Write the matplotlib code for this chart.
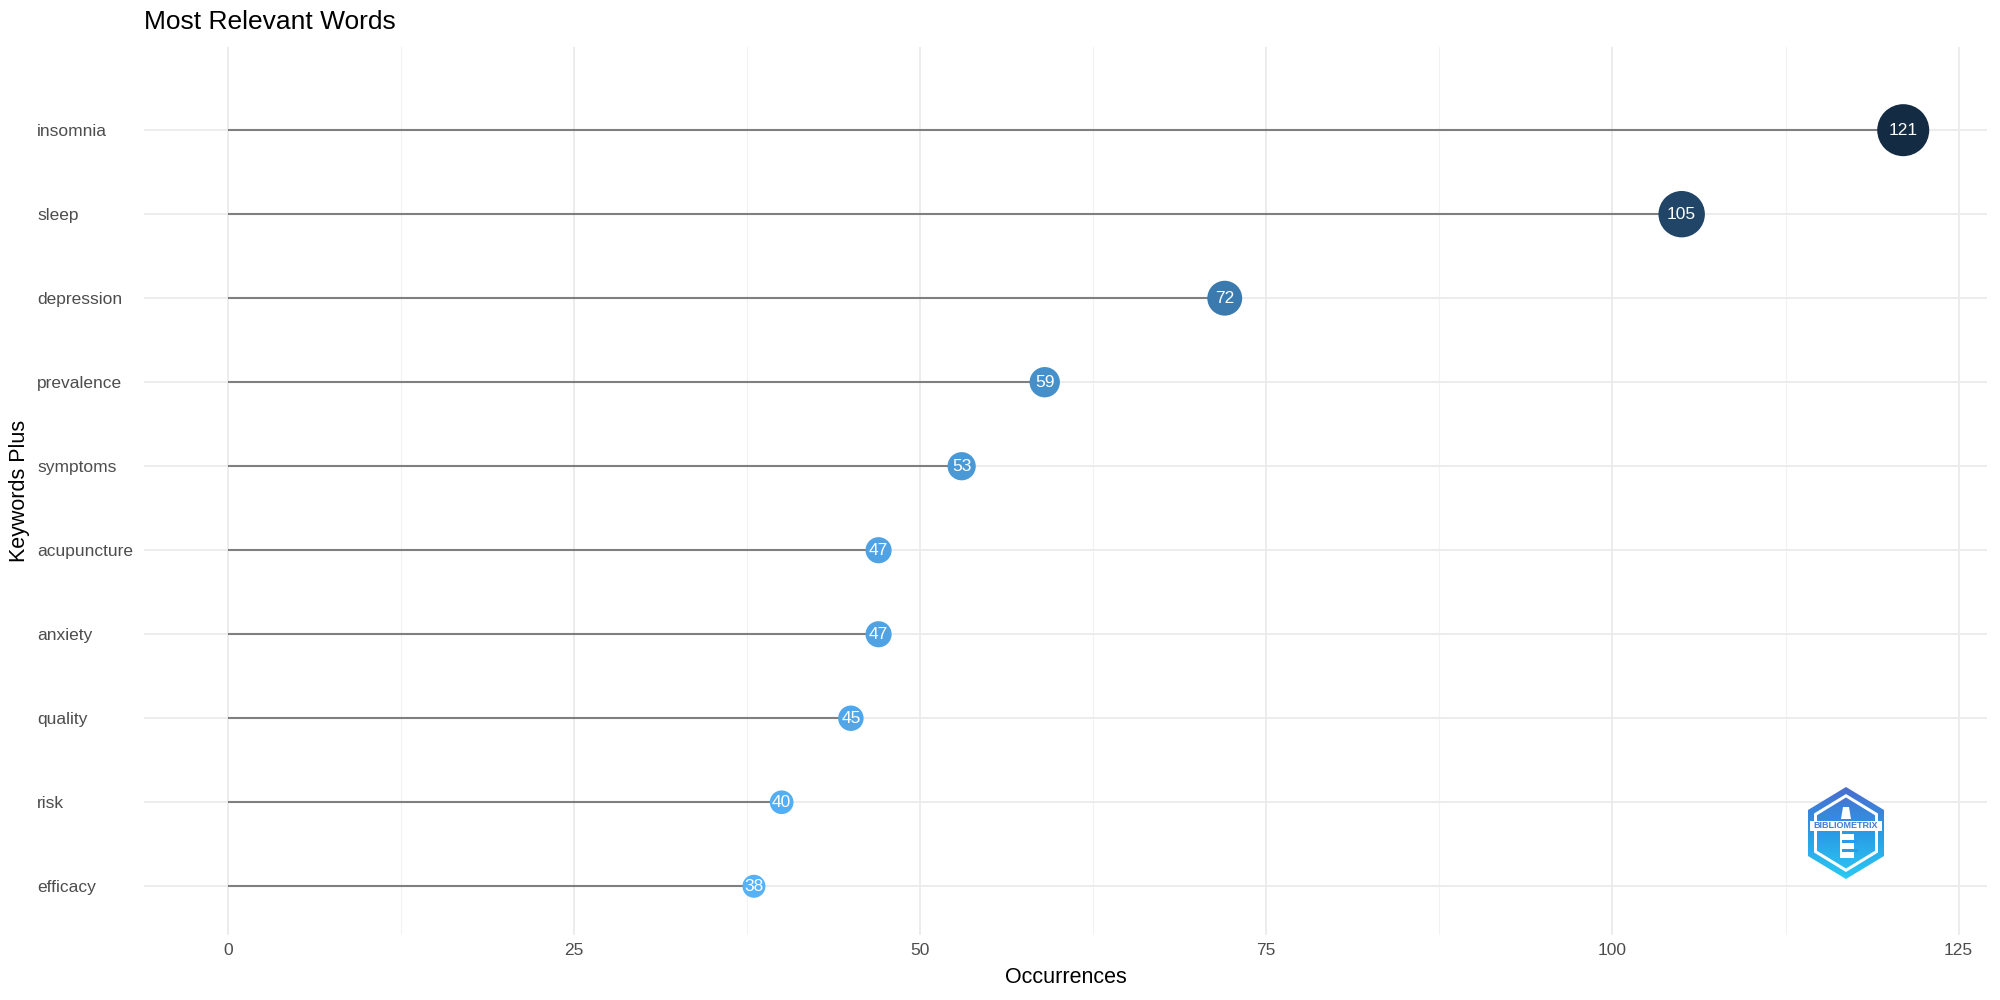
import numpy as np
import matplotlib.pyplot as plt
from matplotlib.colors import LinearSegmentedColormap
from matplotlib.patches import Polygon, Rectangle

plt.rcParams['font.family'] = ['Liberation Sans', 'DejaVu Sans']

words = ['efficacy', 'risk', 'quality', 'anxiety', 'acupuncture',
         'symptoms', 'prevalence', 'depression', 'sleep', 'insomnia']
occurrences = [38, 40, 45, 47, 47, 53, 59, 72, 105, 121]
x_ticks = [0, 25, 50, 75, 100, 125]
x_minor = [12.5, 37.5, 62.5, 87.5, 112.5]

vals = np.array(occurrences)
ypos = np.arange(len(words))

# ggplot-style gradient: big counts dark navy, small counts light blue
cmap = LinearSegmentedColormap.from_list('gg', ['#56B1F7', '#132B43'])
t = (vals - vals.min()) / (vals.max() - vals.min())
colors = cmap(t)
diam_px = 23 + 29 * t
sizes = (diam_px * 0.72) ** 2

fig = plt.figure(figsize=(20, 10), dpi=100)
ax = fig.add_axes([0.072, 0.065, 0.9215, 0.888])

for s in ax.spines.values():
    s.set_visible(False)

ax.set_xlim(-6.05, 127.05)
ax.set_ylim(-0.58, 9.99)
ax.set_xticks(x_ticks)
ax.set_xticks(x_minor, minor=True)
ax.set_yticks(ypos)
ax.set_yticklabels(words)
ax.grid(True, which='major', color='#EBEBEB', linewidth=1.3, zorder=0)
ax.grid(True, which='minor', axis='x', color='#F2F2F2', linewidth=0.8, zorder=0)
ax.set_axisbelow(True)
ax.tick_params(axis='both', which='both', length=0, labelsize=12.5, labelcolor='#4D4D4D')
ax.tick_params(axis='x', pad=6)
ax.tick_params(axis='y', pad=77)
for lab in ax.get_yticklabels():
    lab.set_horizontalalignment('left')

ax.hlines(ypos, 0, vals, color='#7F7F7F', linewidth=1.5, zorder=2)
ax.scatter(vals, ypos, s=sizes, c=colors, zorder=3, edgecolors='none')
for v, y in zip(vals, ypos):
    ax.text(v, y, str(v), ha='center', va='center', color='white', fontsize=12.5, zorder=4)

ax.set_xlabel('Occurrences', fontsize=15.5, color='black')
ax.xaxis.set_label_coords(0.5, -0.0484)
ax.xaxis.label.set_verticalalignment('center')
ax.set_ylabel('Keywords Plus', fontsize=15.5, color='black')
ax.yaxis.set_label_coords(-0.0678, 0.5)
ax.yaxis.label.set_verticalalignment('center')

fig.text(0.072, 1 - 22 / 1000, 'Most Relevant Words', fontsize=19, ha='left', va='center')

# bibliometrix logo
lax = fig.add_axes([0.923 - 0.02, 0.167 - 0.047, 0.04, 0.094])
lax.set_xlim(-40, 40)
lax.set_ylim(-47, 47)
lax.axis('off')
grad = np.linspace(0, 1, 100).reshape(-1, 1)
logo_cmap = LinearSegmentedColormap.from_list('logo', ['#4B6CCF', '#2A9BE6', '#2BCBF3'])

def hexagon(r_w, r_h):
    return [(0, r_h), (r_w, r_h / 2), (r_w, -r_h / 2), (0, -r_h), (-r_w, -r_h / 2), (-r_w, r_h / 2)]

outer = Polygon(hexagon(38, 46), closed=True, facecolor='none', edgecolor='none')
lax.add_patch(outer)
im = lax.imshow(grad, cmap=logo_cmap, extent=[-40, 40, -47, 47], origin='upper',
                aspect='auto', zorder=1)
im.set_clip_path(outer)
lax.add_patch(Polygon(hexagon(32, 39), closed=True, facecolor='white', edgecolor='none', zorder=2))
inner = Polygon(hexagon(29, 35.5), closed=True, facecolor='none', edgecolor='none')
lax.add_patch(inner)
im2 = lax.imshow(grad, cmap=logo_cmap, extent=[-40, 40, -47, 47], origin='upper',
                 aspect='auto', zorder=3)
im2.set_clip_path(inner)
# lighthouse
lax.add_patch(Rectangle((-6, -25), 14, 32, facecolor='white', edgecolor='none', zorder=4))
lax.add_patch(Polygon([(-5, 14), (5, 14), (3, 26), (-3, 26)], closed=True,
                      facecolor='white', edgecolor='none', zorder=4))
for yy in [-19, -10, -1]:
    lax.add_patch(Rectangle((-4, yy), 16, 3.5, facecolor='#2A9BE6', edgecolor='none', zorder=5))
lax.add_patch(Rectangle((-36, 2), 72, 10, facecolor='white', edgecolor='none', zorder=6))
lax.text(0, 7, 'BIBLIOMETRIX', ha='center', va='center', fontsize=6.5,
         fontweight='bold', color='#3A7FD8', zorder=7)

fig.savefig('out.png', dpi=100)
